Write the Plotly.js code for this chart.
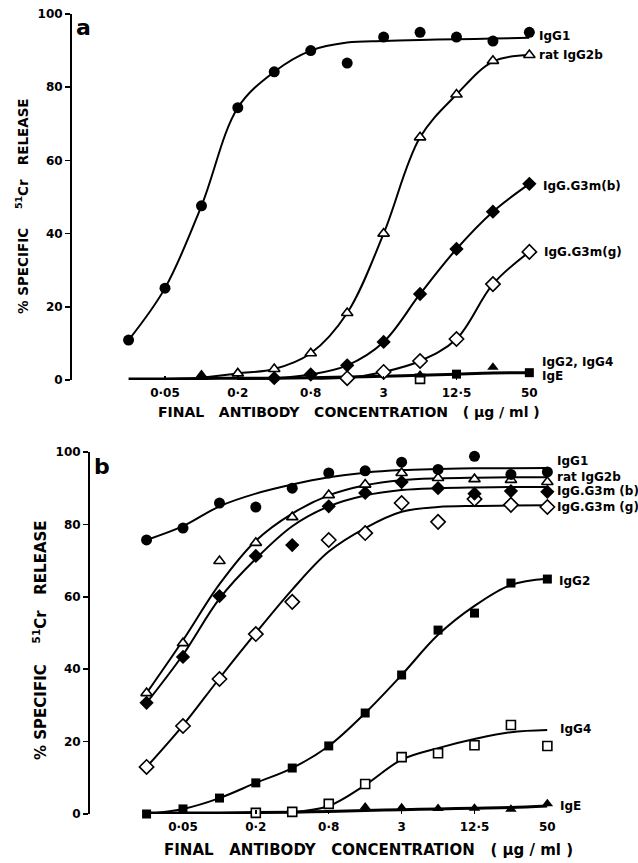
<!DOCTYPE html>
<html>
<head>
<meta charset="utf-8">
<script src="https://cdn.plot.ly/plotly-3.0.1.min.js"></script>
<style>html,body{margin:0;padding:0;background:#fff;}#chart{width:638px;height:863px;}</style>
</head>
<body>
<div id="chart"></div>
<script>
// concentrations (ug/ml), two-fold dilutions
const conc = [0.0244, 0.0488, 0.0977, 0.195, 0.39, 0.781, 1.5625, 3.125, 6.25, 12.5, 25, 50];
const tickVals = [0.0488, 0.195, 0.781, 3.125, 12.5, 50];
const tickText = ['0·05', '0·2', '0·8', '3', '12·5', '50'];
const yTicks = [0, 20, 40, 60, 80, 100];

// Panel a: measured points
const aIgG1 = [10.9, 25.1, 47.6, 74.4, 84.2, 90.0, 86.6, 93.7, 95.0, 93.7, 92.6, 95.0];
const aRat  = [null, null, null, 1.8, 3.0, 7.3, 18.3, 40.0, 66.3, 78.0, 87.2, 88.8];
const aG3b  = [null, null, null, null, 0.5, 1.5, 4.0, 10.4, 23.5, 35.8, 46.0, 53.6];
const aG3g  = [null, null, null, null, null, null, 0.5, 2.2, 5.2, 11.2, 26.2, 35.0];
const aIgE  = [null, null, 1.5, null, null, null, null, null, 1.4, null, 3.5, null];
const aIgG2 = [null, null, null, null, null, null, null, null, null, 1.6, null, 2.0];
const aIgG4 = [null, null, null, null, null, null, null, null, 0.3, null, null, null];
// Panel a: drawn curves
const aIgG1Fit = [10.9, 25.1, 47.6, 74.4, 84.2, 90.0, 92.2, 92.6, 92.9, 93.1, 93.3, 93.5];
const aRatFit  = [null, null, 0.6, 1.8, 3.0, 7.3, 18.3, 40.0, 66.3, 78.0, 87.0, 88.8];
const aG3bFit  = [null, null, null, 0.3, 0.5, 1.5, 4.0, 10.4, 23.5, 35.8, 46.0, 53.6];
const aG3gFit  = [null, null, null, null, null, 0.4, 0.6, 2.2, 5.2, 11.2, 26.2, 35.0];
const aBaseFit = [0.3, 0.3, 0.4, 0.5, 0.5, 0.6, 0.8, 1.0, 1.3, 1.6, 1.9, 2.0];

// Panel b: measured points
const bIgG1 = [75.7, 79.0, 85.9, 84.8, 90.0, 94.2, 94.8, 97.2, 95.2, 98.8, 93.8, 94.5];
const bRat  = [33.4, 47.2, 69.9, 74.9, 82.0, 88.1, 91.0, 94.2, 92.8, 92.5, 92.3, 91.7];
const bG3b  = [30.7, 43.4, 60.2, 71.3, 74.3, 85.0, 88.7, 91.7, 90.0, 88.5, 89.2, 89.0];
const bG3g  = [13.0, 24.3, 37.3, 49.7, 58.6, 75.7, 77.6, 85.9, 80.7, 87.0, 85.4, 84.8];
const bIgG2 = [0.0, 1.4, 4.4, 8.6, 12.7, 18.8, 27.9, 38.4, 50.8, 55.5, 63.8, 64.9];
const bIgG4 = [null, null, null, 0.3, 0.6, 2.8, 8.3, 15.7, 16.8, 19.0, 24.6, 18.8];
const bIgE  = [null, null, null, null, null, null, 1.9, 1.7, 1.5, 1.6, 1.3, 2.8];
// Panel b: drawn curves
const bIgG1Fit = [75.7, 79.5, 85.0, 88.5, 91.0, 93.0, 94.3, 95.0, 95.3, 95.5, 95.5, 95.6];
const bRatFit  = [33.4, 48.0, 63.5, 75.5, 83.0, 88.0, 90.8, 92.2, 92.7, 92.9, 93.0, 93.0];
const bG3bFit  = [30.7, 44.0, 59.5, 70.5, 79.5, 85.0, 88.0, 89.5, 90.0, 90.2, 90.3, 90.3];
const bG3gFit  = [13.0, 24.5, 37.5, 50.0, 62.0, 72.5, 79.0, 83.5, 84.8, 85.1, 85.2, 85.3];
const bIgG2Fit = [0.0, 1.4, 4.4, 8.6, 12.7, 18.8, 27.9, 38.4, 49.5, 57.5, 63.3, 65.0];
const bIgG4Fit = [null, null, null, null, 0.5, 2.2, 8.0, 15.0, 18.2, 20.7, 22.6, 23.2];
const bBaseFit = [0.3, 0.3, 0.3, 0.4, 0.5, 0.7, 1.0, 1.2, 1.4, 1.6, 1.8, 2.2];

const W = 638, H = 863;
const px = x => x / W;
const py = y => 1 - y / H;
const FONT = 'DejaVu Sans, Arial, sans-serif';

function curve(y, ax, w) {
  return {x: conc, y: y, xaxis: ax[0], yaxis: ax[1], mode: 'lines', type: 'scatter',
    line: {color: '#000', width: w || 2, shape: 'spline', smoothing: 1}, hoverinfo: 'skip', showlegend: false};
}
function pts(y, ax, sym, open, size) {
  return {x: conc, y: y, xaxis: ax[0], yaxis: ax[1], mode: 'markers', type: 'scatter', cliponaxis: false,
    marker: {symbol: sym, size: size || 10, color: open ? '#fff' : '#000', line: {color: '#000', width: open ? 1.6 : 0}},
    showlegend: false};
}
const A = ['x', 'y'], B = ['x2', 'y2'];

const data = [
  curve(aBaseFit, A, 3), curve(aG3gFit, A), curve(aG3bFit, A), curve(aRatFit, A), curve(aIgG1Fit, A),
  pts(aIgG4, A, 'square', true, 9), pts(aIgG2, A, 'square', false, 9), pts(aIgE, A, 'triangle-up', false, 10),
  pts(aG3g, A, 'diamond', true, 11), pts(aG3b, A, 'diamond', false, 11), pts(aRat, A, 'triangle-up', true, 10),
  pts(aIgG1, A, 'circle', false, 11),
  curve(bBaseFit, B, 3), curve(bIgG4Fit, B), curve(bIgG2Fit, B), curve(bG3gFit, B), curve(bG3bFit, B),
  curve(bRatFit, B), curve(bIgG1Fit, B),
  pts(bIgE, B, 'triangle-up', false, 10), pts(bIgG4, B, 'square', true, 9), pts(bIgG2, B, 'square', false, 9),
  pts(bG3g, B, 'diamond', true, 11), pts(bG3b, B, 'diamond', false, 11), pts(bRat, B, 'triangle-up', true, 10),
  pts(bIgG1, B, 'circle', false, 11)
];

const xr = [-2.08, Math.log10(50) + 0.002];
function xax(domain, anchor) {
  return {type: 'log', range: xr, domain: domain, anchor: anchor, showline: false, showgrid: false, zeroline: false,
    tickvals: tickVals, ticktext: tickText, ticks: 'inside', ticklen: 4, tickwidth: 1.5, tickcolor: '#000',
    ticklabelstandoff: 4,
    tickfont: {family: FONT, size: 12, color: '#000', weight: 'bold'}};
}
function yax(domain, anchor) {
  return {range: [0, 100], domain: domain, anchor: anchor, showline: true, linewidth: 2, linecolor: '#000',
    showgrid: false, zeroline: false, tickvals: yTicks, ticks: 'outside', ticklen: 5, tickwidth: 1.5, tickcolor: '#000',
    tickfont: {family: FONT, size: 12, color: '#000', weight: 'bold'}};
}
const span = 457.6;
const layout = {
  width: W, height: H, margin: {l: 0, r: 0, t: 0, b: 0}, paper_bgcolor: '#fff', plot_bgcolor: 'rgba(0,0,0,0)',
  showlegend: false,
  xaxis: xax([px(72), px(72 + span)], 'y'),
  yaxis: yax([py(380), py(14)], 'x'),
  xaxis2: xax([px(90), px(90 + span)], 'y2'),
  yaxis2: yax([py(814), py(452)], 'x2'),
  annotations: []
};
function lab(text, x, y, size, opts) {
  layout.annotations.push(Object.assign({text: text, x: px(x), y: py(y), xref: 'paper', yref: 'paper',
    xanchor: 'left', yanchor: 'middle', showarrow: false,
    font: {family: FONT, size: size || 12, color: '#000', weight: 'bold'}}, opts || {}));
}
const nb = '\u00A0';
// panel a legend labels
lab('IgG1', 537, 36); lab('rat' + nb + 'IgG2b', 537, 55); lab('IgG.G3m(b)', 541, 186);
lab('IgG.G3m(g)', 542, 252); lab('IgG2,' + nb + 'IgG4', 540, 362); lab('IgE', 540, 376);
// panel b legend labels
lab('IgG1', 555, 461); lab('rat' + nb + 'IgG2b', 555, 477); lab('IgG.G3m' + nb + '(b)', 555, 491);
lab('IgG.G3m' + nb + '(g)', 555, 507); lab('IgG2', 557, 581); lab('IgG4', 558, 729); lab('IgE', 558, 806);
// panel letters
lab('a', 74, 28, 22); lab('b', 92, 466, 22);
// axis titles
const xt = 'FINAL' + nb + nb + ' ANTIBODY' + nb + nb + ' CONCENTRATION' + nb + nb + ' (' + nb + 'μg' + nb + '/' + nb + 'ml' + nb + ')';
lab(xt, 349, 412, 14, {xanchor: 'center'});
lab(xt, 368, 850, 15, {xanchor: 'center'});
const yt = '%' + nb + 'SPECIFIC' + nb + nb + nb + nb + '<sup>51</sup>Cr' + nb + nb + ' RELEASE';
lab(yt, 22, 206, 13.5, {xanchor: 'center', textangle: -90});
lab(yt, 40, 640, 15, {xanchor: 'center', textangle: -90});

Plotly.newPlot('chart', data, layout, {displayModeBar: false, staticPlot: true});
</script>
</body>
</html>
